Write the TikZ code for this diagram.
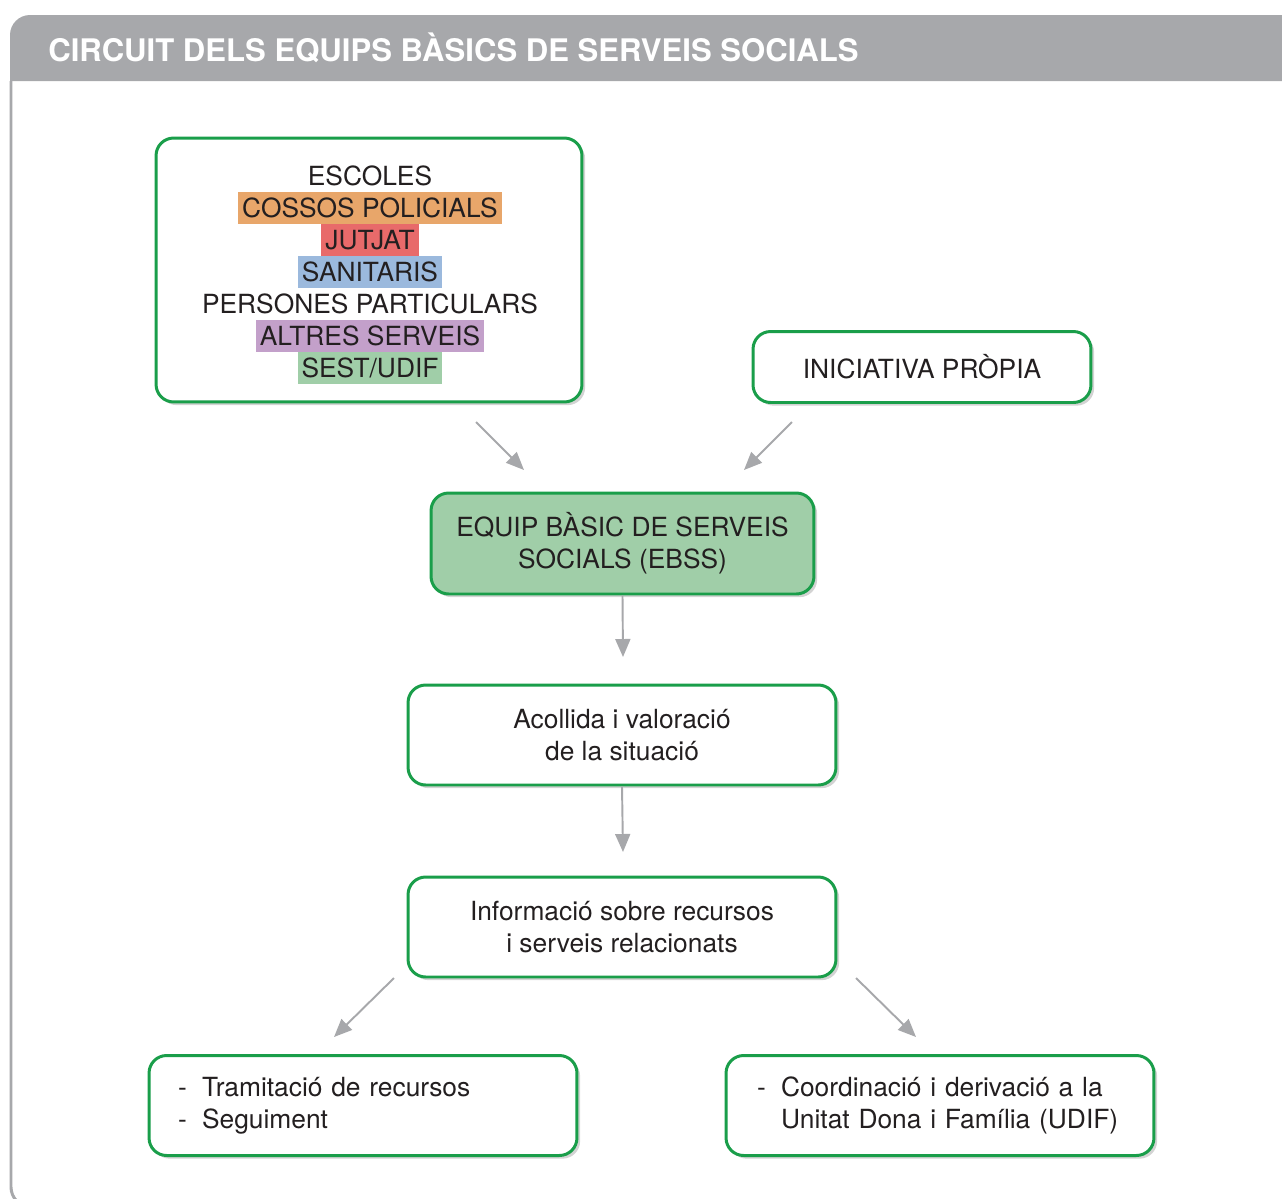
\documentclass[tikz,border=0pt]{standalone}
\usepackage{fontspec}
\setmainfont{TeX Gyre Heros}
\usepackage{tikz}
\usetikzlibrary{shapes,shadows,arrows.meta,positioning}
\definecolor{boxgreen}{RGB}{26,158,74}
\definecolor{headgray}{RGB}{167,168,171}
\definecolor{textdark}{RGB}{35,31,32}
\definecolor{hlorange}{RGB}{232,166,106}
\definecolor{hlred}{RGB}{232,106,106}
\definecolor{hlblue}{RGB}{155,185,221}
\definecolor{hlpurple}{RGB}{195,160,202}
\definecolor{hlgreen}{RGB}{160,206,168}
\newcommand{\guio}{\makebox[0.48cm][l]{-}}
\tikzstyle{box}=[rectangle, draw=boxgreen, line width=1.7pt, fill=white, rounded corners=10pt, inner sep=0pt, align=center, text=textdark, font={\fontsize{15pt}{18.2pt}\selectfont}, drop shadow={shadow xshift=1.8pt, shadow yshift=-1.8pt, opacity=0.35}]
\tikzstyle{srcline}=[rectangle, inner xsep=2.3pt, inner ysep=0pt, text height=14.5pt, text depth=3.7pt, text=textdark, font={\fontsize{15pt}{18.2pt}\selectfont}]
\tikzstyle{flow}=[draw=headgray, line width=1.1pt, -{Triangle[length=0.36cm,width=0.3cm]}]

\begin{document}
\begin{tikzpicture}[x=0.02cm, y=-0.02cm]
\useasboundingbox (0,0) rectangle (1282,1198);
\clip (0,0) rectangle (1282,1198);
%Frame
\fill[headgray] (10,81) -- (10,35) arc[start angle=180, end angle=90, radius=0.4cm] -- (1290,15) -- (1290,81) -- cycle;
\draw[headgray, line width=1.7pt] (11,81) -- (11,1187) arc[start angle=180, end angle=270, radius=0.4cm] -- (1300,1207);
\node[anchor=base west, text=white, font={\fontsize{17.7pt}{20pt}\selectfont\bfseries}, inner sep=0pt] (title) at (48,61) {CIRCUIT DELS EQUIPS BÀSICS DE SERVEIS SOCIALS};

%Boxes
\node[box, minimum width=8.52cm, minimum height=5.28cm] (src) at (369,270) {};
\node[box, minimum width=6.76cm, minimum height=1.42cm] (ini) at (922,367) {INICIATIVA PRÒPIA};
\node[box, fill=hlgreen, minimum width=7.66cm, minimum height=2.02cm] (ebss) at (622.5,543.5) {EQUIP BÀSIC DE SERVEIS\\SOCIALS (EBSS)};
\node[box, minimum width=8.56cm, minimum height=2cm] (acol) at (622,735) {Acollida i valoració\\de la situació};
\node[box, minimum width=8.56cm, minimum height=2cm] (info) at (622,927) {Informació sobre recursos\\i serveis relacionats};
\node[box, align=left, text width=7.4cm, minimum width=8.56cm, minimum height=2cm] (tram) at (363,1105.5) {\guio Tramitació de recursos\\\guio Seguiment};
\node[box, align=left, text width=7.32cm, minimum width=8.56cm, minimum height=2cm] (coord) at (940,1105.5) {\guio Coordinació i derivació a la\\\hspace*{0.48cm}Unitat Dona i Família (UDIF)};

%Sources
\node[srcline] (l1) at (370,176) {ESCOLES};
\node[srcline, fill=hlorange] (l2) at (370,208) {COSSOS POLICIALS};
\node[srcline, fill=hlred] (l3) at (370,240) {JUTJAT};
\node[srcline, fill=hlblue] (l4) at (370,272) {SANITARIS};
\node[srcline] (l5) at (370,304) {PERSONES PARTICULARS};
\node[srcline, fill=hlpurple] (l6) at (370,336) {ALTRES SERVEIS};
\node[srcline, fill=hlgreen] (l7) at (370,368) {SEST/UDIF};

%Arrows
\coordinate (a1s) at (476,422);
\coordinate (a1e) at (524,470);
\coordinate (a2s) at (792,422);
\coordinate (a2e) at (744,470);
\coordinate (a3e) at (623,657);
\coordinate (a4e) at (623,852);
\coordinate (a5s) at (394,978);
\coordinate (a5e) at (334,1037);
\coordinate (a6s) at (856,978);
\coordinate (a6e) at (916,1037);
\draw[flow] (a1s) -- (a1e);
\draw[flow] (a2s) -- (a2e);
\draw[flow] (ebss.south) -- (a3e);
\draw[flow] (acol.south) -- (a4e);
\draw[flow] (a5s) -- (a5e);
\draw[flow] (a6s) -- (a6e);
\end{tikzpicture}
\end{document}
